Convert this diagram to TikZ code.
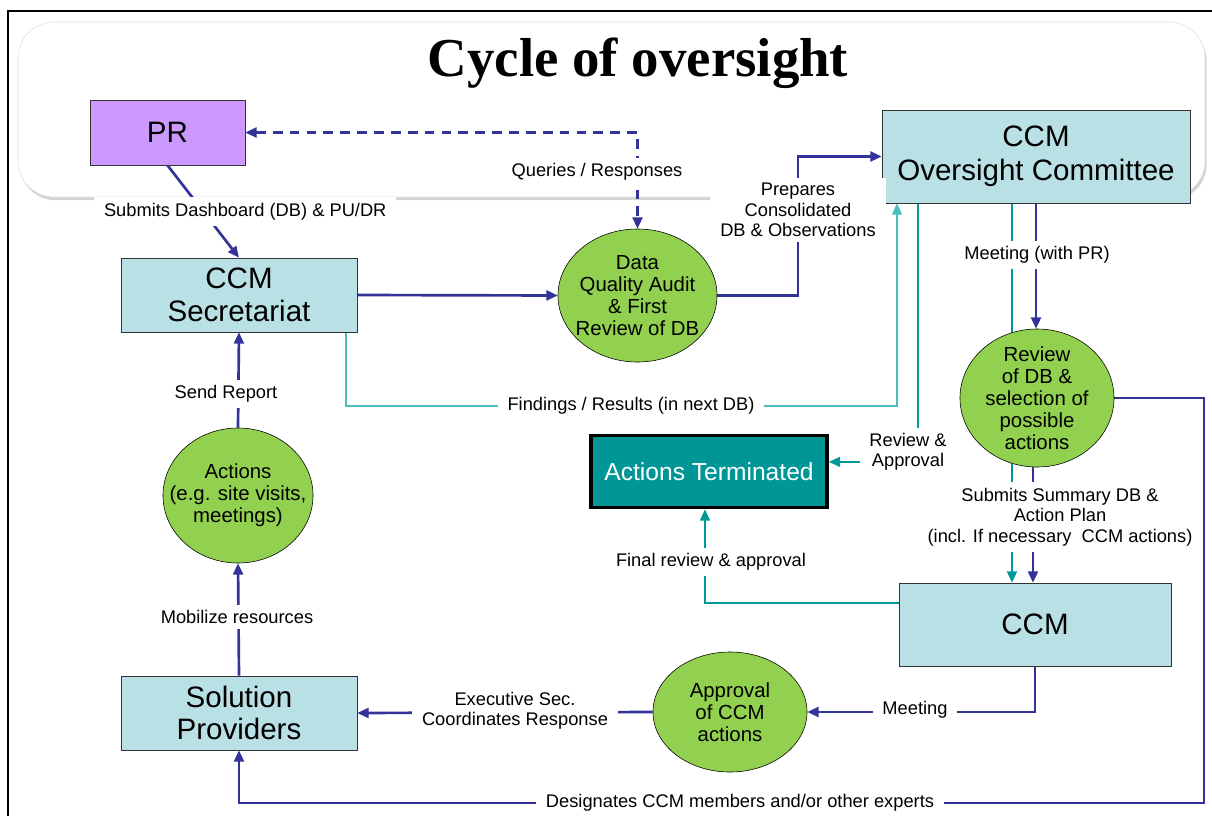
\documentclass[tikz,border=0pt]{standalone}
\usepackage{fontspec}
\setmainfont{Liberation Sans}
\newfontfamily\titlefont{Liberation Serif}
\usetikzlibrary{shapes.geometric,arrows.meta,shadows,backgrounds}

\definecolor{navyline}{RGB}{51,51,153}
\definecolor{tealline}{RGB}{0,153,153}
\definecolor{findteal}{RGB}{75,190,190}
\definecolor{boxfill}{RGB}{185,224,228}
\definecolor{prfill}{RGB}{204,153,255}
\definecolor{bubblefill}{RGB}{146,208,80}
\definecolor{termfill}{RGB}{0,150,150}

\tikzset{
  box/.style={draw=black!80, fill=boxfill, align=center, inner sep=0pt,
    font=\fontsize{21}{23}\selectfont},
  bubble/.style={ellipse, draw=black, fill=bubblefill, align=center, inner sep=-15pt,
    font=\fontsize{14.5}{15.6}\selectfont},
  lbl/.style={fill=white, text=black, align=center, inner xsep=7pt, inner ysep=4pt,
    font=\fontsize{13}{14.5}\selectfont},
  flow/.style={navyline, line width=1.9pt},
  review/.style={tealline, line width=1.3pt},
  findline/.style={findteal, line width=1.3pt},
}

\begin{document}
\begin{tikzpicture}[x=0.025cm, y=-0.025cm, >={Triangle[length=8pt,width=7pt]}]
    \useasboundingbox (0,0) rectangle (1212,816);
    \draw [line width=1.5pt] (8,816) -- (8,11) -- (1212,11);
    \node [font=\titlefont\bfseries\fontsize{39}{44}\selectfont] (title) at (638,63) {Cycle of oversight};

    % boxes
    \node [box, fill=prfill, minimum width=3.875cm, minimum height=1.625cm] (pr) at (167.5,132.5) {PR};
    \node [box, minimum width=5.9cm, minimum height=1.85cm] (sec) at (239,295) {CCM\\Secretariat};
    \node [box, font=\fontsize{21}{24.5}\selectfont, minimum width=7.7cm, minimum height=2.325cm] (ovs) at (1036,156.5) {CCM\\Oversight Committee};
    \node [box, draw=black, line width=2.5pt, fill=termfill, text=white, font=\fontsize{17.5}{20}\selectfont,
      minimum width=5.9cm, minimum height=1.8cm] (term) at (709,471.5) {Actions Terminated};
    \node [box, minimum width=6.8cm, minimum height=2.075cm] (ccm) at (1035,624.5) {CCM};
    \node [box, minimum width=5.9cm, minimum height=1.85cm] (sol) at (239,713) {Solution\\Providers};

    % bubbles
    \node [bubble, minimum width=3.975cm, minimum height=3.325cm] (dqa) at (637.5,295.5) {Data\\Quality Audit\\\& First\\Review of DB};
    \node [bubble, minimum width=3.85cm, minimum height=3.45cm] (rev) at (1037,398) {Review\\of DB \&\\selection of\\possible\\actions};
    \node [bubble, minimum width=3.75cm, minimum height=3.375cm] (act) at (238,495.5) {Actions\\(e.g. site visits,\\meetings)};
    \node [bubble, minimum width=3.85cm, minimum height=3.0cm] (appr) at (730,712) {Approval\\of CCM\\actions};

    % connectors, kept behind the nodes
    \begin{scope}[on background layer]
    \draw [rounded corners=0.9cm, draw=black!12, fill=white,
      drop shadow={opacity=0.35, shadow xshift=0.04cm, shadow yshift=-0.08cm}]
      (18,22) rectangle (1205,197);
    \draw [flow, dash pattern=on 7pt off 5pt, <->] (pr.east) -- (dqa.north |- pr.east) -- (dqa.north);
    \draw [flow, ->] (pr.south) -- (sec.north) node [lbl, midway, xshift=1.05cm] (dblbl) {Submits Dashboard (DB) \& PU/DR};
    \draw [flow, ->] (sec.east) -- (dqa.west);
    \draw [flow, ->] (dqa.east) -| (798,220) |- (ovs.west);
    \coordinate (findcorner) at (897,406);
    \draw [findline, ->] ([xshift=-0.275cm]sec.south east) |- (findcorner) -- (findcorner |- ovs.south);
    \draw [review, ->] ([xshift=0.9cm]ovs.south west) |- ([yshift=0.24cm]term.east);
    \draw [review, ->] ([xshift=-0.6cm]ovs.south) -- ([xshift=-0.6cm]ovs.south |- ccm.north);
    \draw [flow, ->] (ovs.south) -- (ovs.south |- rev.north);
    \draw [flow, ->] ([xshift=-0.1cm]rev.south) -- ([xshift=-0.1cm]rev.south |- ccm.north);
    \draw [flow, ->] (rev.east) -| (1204,803) -| (sol.south);
    \draw [review, ->] ([yshift=0.54cm]ccm.west) -| ([xshift=-0.1cm]term.south);
    \draw [flow, ->] (ccm.south) |- (appr.east);
    \draw [flow, ->] (appr.west) -- (sol.east);
    \draw [flow, ->] (sol.north) -- (act.south);
    \draw [flow, ->] (act.north) -- (sec.south);
    \end{scope}

    % labels
    \node [lbl] (qrlbl) at (597,172) {Queries / Responses};
    \node [lbl] (preplbl) at (798,210) {Prepares\\Consolidated\\DB \& Observations};
    \node [lbl] (findlbl) at (631,406) {Findings / Results (in next DB)};
    \node [lbl] (apprlbl) at (908,452) {Review \&\\Approval};
    \node [lbl] (meetprlbl) at (1037,255) {Meeting (with PR)};
    \node [lbl] (sumlbl) at (1060,517) {Submits Summary DB \&\\Action Plan\\(incl. If necessary\ \ CCM actions)};
    \node [lbl] (desiglbl) at (740,803) {Designates CCM members and/or other experts};
    \node [lbl] (finallbl) at (711,562) {Final review \& approval};
    \node [lbl] (meetlbl) at (915,710) {Meeting};
    \node [lbl] (execlbl) at (515,711) {Executive Sec.\\Coordinates Response};
    \node [lbl] (moblbl) at (237,617) {Mobilize resources};
    \node [lbl] (sendlbl) at (226,394) {Send Report};
\end{tikzpicture}
\end{document}
